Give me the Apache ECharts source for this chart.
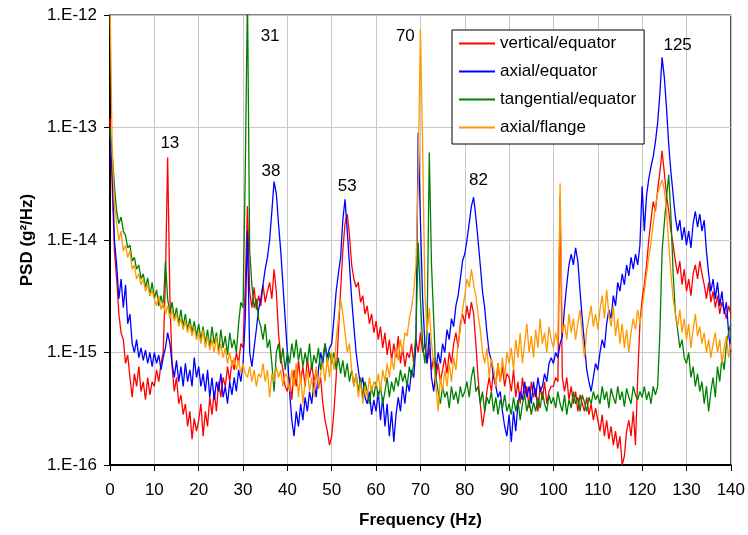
<!DOCTYPE html>
<html>
<head>
<meta charset="utf-8">
<script src="https://cdn.jsdelivr.net/npm/echarts@6/dist/echarts.min.js"></script>
<style>
  html, body { margin: 0; padding: 0; background: #fff; }
  #chart { width: 748px; height: 535px; }
</style>
</head>
<body>
<div id="chart"></div>
<script>
// PSD values in units of 1e-15 g^2/Hz, one value every 0.5 Hz from 0 to 140 Hz
var unit = 1e-15
var step = 0.5

var vertEq = [
    120, 30, 8, 4.5, 2.2, 1.5, 1.3, 0.8, 0.95, 0.6, 0.4, 0.65, 0.5, 0.75, 0.45, 0.55, 0.38, 0.6, 0.42, 0.55,
    0.5, 0.7, 0.55, 0.8, 1.0, 4.5, 54, 3.2, 0.75, 0.45, 0.6, 0.35, 0.42, 0.28, 0.35, 0.22, 0.3, 0.17, 0.26, 0.2,
    0.25, 0.35, 0.18, 0.3, 0.22, 0.4, 0.28, 0.45, 0.3, 0.55, 0.4, 0.6, 0.5, 0.75, 0.55, 0.85, 0.7, 1.0, 0.8, 1.2,
    1.1, 4, 20, 3.5, 2.5, 3.8, 2.4, 3.2, 2.6, 4.0, 2.8, 3.5, 4.2, 3.0, 5.5, 3.5, 1.5, 0.9, 0.7, 0.5,
    0.45, 0.6, 0.38, 0.7, 0.5, 0.85, 0.55, 0.75, 0.5, 0.9, 0.6, 0.8, 0.55, 0.7, 0.48, 0.6, 0.35, 0.25, 0.2, 0.15,
    0.18, 0.3, 0.6, 1.5, 3.5, 8, 14, 17, 11, 6, 4.5, 3.8, 4.2, 2.8, 3.2, 2.2, 2.6, 1.8, 2.2, 1.5,
    1.9, 1.3, 1.7, 1.1, 1.5, 0.95, 1.3, 0.85, 1.2, 0.9, 1.4, 0.8, 1.1, 0.75, 1.0, 0.9, 1.2, 0.8, 1.3, 1.0,
    1.5, 1.0, 1.2, 0.8, 1.1, 0.7, 0.9, 0.6, 0.8, 0.55, 0.7, 0.9, 0.65, 1.0, 0.8, 1.2, 1.5, 1.1, 1.8, 2.2,
    1.8, 2.6, 2.0, 2.8, 2.2, 1.2, 0.6, 0.35, 0.22, 0.3, 0.45, 0.6, 0.45, 0.7, 0.5, 0.8, 0.55, 0.75, 0.5, 0.65,
    0.6, 0.45, 0.7, 0.4, 0.55, 0.35, 0.6, 0.42, 0.5, 0.32, 0.55, 0.4, 0.48, 0.3, 0.5, 0.38, 0.55, 0.35, 0.45, 0.5,
    0.5, 0.6, 0.55, 24, 0.6, 0.45, 0.6, 0.38, 0.5, 0.35, 0.45, 0.3, 0.42, 0.35, 0.3, 0.4, 0.28, 0.35, 0.25, 0.32,
    0.25, 0.2, 0.28, 0.18, 0.25, 0.17, 0.22, 0.15, 0.2, 0.14, 0.18, 0.1, 0.12, 0.2, 0.25, 0.18, 0.3, 0.15, 0.6, 1.8,
    3, 4, 6, 10, 15, 22, 18, 28, 40, 62, 40, 25, 18, 12, 9, 6.5, 5, 6.5, 4, 5.5,
    3.5, 4.5, 3.2, 5, 6, 4.5, 6.5, 5, 4, 3, 4.2, 2.8, 3.5, 2.5, 3.2, 2.2, 2.8, 2.4, 2.0, 2.6, 2.2
]

var axialEq = [
    90, 40, 10, 6, 3, 4.5, 2.5, 4, 1.8, 2.2, 1.2, 1.0, 1.3, 0.9, 1.1, 0.85, 1.05, 0.8, 1.0, 0.75,
    1.0, 0.8, 0.95, 0.7, 0.9, 1.1, 1.5, 1.2, 0.8, 0.6, 0.85, 0.55, 0.75, 0.5, 0.8, 0.55, 0.7, 0.5, 0.9, 0.6,
    0.75, 0.5, 0.65, 0.45, 0.7, 0.4, 0.6, 0.38, 0.55, 0.45, 0.65, 0.4, 0.5, 0.35, 0.55, 0.42, 0.6, 0.45, 0.7, 0.55,
    0.8, 2, 12, 1.0, 0.75, 1.1, 1.6, 2.4, 3, 4, 5.5, 7, 10, 18, 33, 26, 14, 8, 4, 2,
    1.0, 0.45, 0.25, 0.18, 0.3, 0.22, 0.35, 0.25, 0.4, 0.3, 0.45, 0.35, 0.55, 0.4, 0.7, 1.0, 0.8, 1.2, 0.9, 1.1,
    1.2, 2, 3.5, 5, 7, 15, 23, 12, 6, 3, 1.7, 1.0, 0.7, 0.5, 0.6, 0.4, 0.35, 0.45, 0.28, 0.38,
    0.3, 0.45, 0.25, 0.4, 0.22, 0.35, 0.18, 0.3, 0.16, 0.28, 0.4, 0.3, 0.5, 0.35, 0.55, 0.45, 0.7, 0.6, 1.2, 90,
    15, 3, 1.2, 0.8, 1.5, 0.6, 0.45, 0.7, 1.0, 0.8, 1.2, 1.0, 1.6, 1.3, 2, 1.7, 2.6, 3.2, 4.5, 6.5,
    7.5, 10, 14, 20, 24, 16, 10, 6, 3.5, 2.5, 1.5, 1.0, 0.85, 0.6, 0.5, 0.4, 0.45, 0.3, 0.22, 0.18,
    0.28, 0.16, 0.3, 0.2, 0.35, 0.45, 0.38, 0.55, 0.4, 0.5, 0.35, 0.55, 0.4, 0.6, 0.45, 0.5, 0.65, 0.55, 0.8, 0.9,
    0.8, 1.0, 0.9, 1.2, 1.4, 2.5, 4, 6, 7.5, 6, 8.5, 6.5, 3.5, 2, 1.2, 0.7, 0.55, 0.45, 0.6, 0.8,
    0.7, 1.0, 1.3, 1.1, 1.8, 2.4, 2.0, 3.2, 2.6, 4.2, 3.5, 5, 4, 6, 4.8, 7, 5.5, 7.5, 6, 9,
    30, 12, 25, 35, 45, 55, 75, 110, 200, 420, 280, 150, 70, 40, 25, 16, 12, 15, 10, 13,
    9, 12, 8.5, 14, 18, 13, 17, 12, 15, 8, 5, 3.5, 4.5, 3, 4.2, 2.6, 3.5, 2.2, 2.8, 1.5, 1.0
]

var tangEq = [
    100, 60, 30, 18, 14, 16, 12, 11, 8.5, 9, 6.5, 7, 5.5, 6, 4.5, 5, 3.8, 4.6, 3.2, 4.2,
    3, 3.6, 2.6, 3.2, 2.5, 6.5, 3, 2.2, 2.8, 2.0, 2.5, 1.8, 2.4, 1.7, 2.2, 1.6, 2.0, 1.5, 1.9, 1.4,
    1.8, 1.3, 1.7, 1.2, 1.6, 1.1, 1.7, 1.2, 1.5, 1.0, 1.6, 1.1, 1.4, 0.95, 1.5, 1.1, 1.3, 1.0, 1.8, 2.8,
    2.5, 40, 1500, 8, 4, 2.5, 3, 2, 1.7, 1.3, 1.8, 1.1, 1.3, 0.8, 0.45, 1.0, 1.2, 0.8, 1.1, 0.7,
    1.0, 0.8, 1.2, 0.9, 1.3, 0.85, 1.1, 0.75, 1.0, 0.8, 1.2, 0.7, 0.95, 0.8, 1.1, 0.7, 0.9, 1.2, 0.8, 1.0,
    0.8, 1.0, 0.7, 0.9, 0.65, 0.85, 0.6, 0.8, 0.55, 0.7, 0.5, 0.65, 0.45, 0.6, 0.4, 0.55, 0.45, 0.35, 0.5, 0.4,
    0.55, 0.4, 0.5, 0.35, 0.45, 0.6, 0.4, 0.55, 0.45, 0.6, 0.5, 0.7, 0.55, 0.65, 0.5, 0.75, 0.6, 0.8, 1.5, 9.5,
    3, 1.2, 0.8, 1.5, 60, 6, 2, 0.6, 0.45, 0.35, 0.5, 0.4, 0.45, 0.32, 0.5, 0.38, 0.45, 0.35, 0.5, 0.4,
    0.45, 0.55, 0.4, 0.6, 0.75, 0.45, 0.5, 0.35, 0.45, 0.3, 0.4, 0.35, 0.45, 0.3, 0.4, 0.28, 0.38, 0.32, 0.42, 0.3,
    0.35, 0.28, 0.4, 0.3, 0.38, 0.25, 0.35, 0.42, 0.3, 0.38, 0.28, 0.36, 0.3, 0.4, 0.32, 0.45, 0.35, 0.3, 0.42, 0.35,
    0.4, 0.32, 0.45, 0.35, 0.3, 0.42, 0.28, 0.38, 0.32, 0.45, 0.35, 0.4, 0.3, 0.42, 0.36, 0.3, 0.4, 0.35, 0.45, 0.38,
    0.42, 0.35, 0.5, 0.38, 0.45, 0.32, 0.48, 0.4, 0.35, 0.5, 0.38, 0.45, 0.33, 0.48, 0.4, 0.35, 0.5, 0.42, 0.38, 0.45,
    0.4, 0.5, 0.38, 0.45, 0.35, 0.5, 0.42, 0.5, 1.5, 8, 14, 24, 38, 16, 5, 2.2, 1.6, 1.1, 1.3, 0.9,
    0.8, 1.0, 0.6, 0.75, 0.5, 0.65, 0.45, 0.55, 0.35, 0.5, 0.3, 0.45, 0.6, 0.4, 0.75, 0.55, 0.9, 0.7, 1.2, 1.5, 1.8
]

var axialFl = [
    1500, 60, 20, 14, 10, 12, 8, 9, 7, 8, 5.5, 6, 4.5, 5, 4, 4.5, 3.5, 4, 3.2, 3.6,
    3.0, 2.6, 3.2, 2.4, 2.8, 2.2, 2.6, 2.0, 2.4, 1.9, 2.2, 1.7, 2.0, 1.6, 1.9, 1.5, 1.8, 1.4, 1.7, 1.3,
    1.5, 1.2, 1.6, 1.1, 1.4, 1.05, 1.3, 1.0, 1.4, 0.95, 1.2, 0.9, 1.1, 0.8, 1.0, 0.75, 0.9, 0.7, 0.85, 0.65,
    0.8, 0.65, 0.6, 0.75, 0.55, 0.7, 0.5, 0.65, 0.6, 0.8, 0.55, 0.7, 0.4, 0.65, 0.55, 0.75, 0.6, 0.7, 0.5, 0.65,
    0.6, 0.45, 0.7, 0.5, 0.8, 0.4, 0.65, 0.35, 0.55, 0.7, 0.45, 0.6, 0.4, 0.75, 0.5, 0.65, 0.8, 0.55, 0.9, 0.6,
    1.0, 0.7, 1.3, 2, 3, 2.2, 1.5, 1.0, 1.2, 0.7, 0.5, 0.65, 0.4, 0.55, 0.35, 0.5, 0.4, 0.6, 0.45, 0.55,
    0.5, 0.65, 0.45, 0.7, 0.55, 0.8, 0.6, 0.9, 0.7, 1.1, 0.85, 1.3, 1.0, 1.5, 1.4, 2.0, 2.5, 3.5, 6, 35,
    750, 70, 3.5, 1.5, 2.5, 1.2, 0.8, 0.5, 0.3, 0.6, 0.45, 0.7, 0.5, 0.8, 0.55, 0.9, 0.7, 1.2, 1.6, 2.4,
    3.2, 4.5, 3.8, 5.5, 4, 3.2, 2.2, 1.6, 1.0, 0.8, 1.1, 0.6, 0.9, 0.7, 0.5, 0.8, 0.55, 0.9, 0.6, 1.0,
    0.8, 1.1, 0.7, 1.3, 0.9, 1.5, 0.8, 1.2, 1.8, 1.0, 1.4, 0.9, 1.6, 1.1, 2.0, 1.2, 1.5, 1.0, 1.7, 1.3,
    1.1, 1.5, 1.2, 32, 1.5, 1.8, 1.3, 2.2, 1.5, 2.0, 1.3, 1.8, 2.4, 1.4, 0.9, 1.6, 2.0, 2.6, 1.7, 2.2,
    1.6, 2.4, 3.2, 2.0, 3.6, 2.2, 1.7, 2.6, 1.4, 2.0, 1.2, 1.8, 1.1, 1.6, 1.0, 1.5, 2.0, 1.6, 2.4, 1.8,
    2.5, 3.5, 5, 7, 9.5, 14, 20, 26, 30, 34, 28, 18, 9, 5, 3, 2.2, 1.7, 2.4, 1.5, 2.0,
    1.3, 1.8, 1.1, 1.6, 2.2, 1.4, 1.7, 1.2, 1.5, 1.0, 1.3, 0.9, 1.2, 1.5, 1.0, 1.3, 0.8, 1.1, 1.4, 0.9, 1.2
]

var seriesNames = ["vertical/equator", "axial/equator", "tangential/equator", "axial/flange"]
var seriesColors = ["#FF0000", "#0000FF", "#008000", "#FF9900"]

// peak annotations (frequency, PSD in 1e-15 units, text)
var peakFreqs = [13.5, 36.1, 36.3, 53.5, 66.6, 83.1, 128]
var peakVals = [73, 640, 41, 30, 640, 34, 533]
var peakTexts = ["13", "31", "38", "53", "70", "82", "125"]

function toPairs(values) {
    return values.map((v, i) => [i * step, v * unit])
}

var font = "Arial, 'Liberation Sans', sans-serif"

var series = [vertEq, axialEq, tangEq, axialFl].map((values, k) => ({
    name: seriesNames[k],
    type: "line",
    data: toPairs(values),
    symbol: "none",
    clip: true,
    lineStyle: { width: 1.3, color: seriesColors[k] },
    itemStyle: { color: seriesColors[k] },
    animation: false
}))

series.push({
    name: "peaks",
    type: "scatter",
    symbolSize: 0,
    silent: true,
    itemStyle: { opacity: 1 },
    data: peakFreqs.map((f, i) => ({ value: [f, peakVals[i] * unit], name: peakTexts[i] })),
    label: {
        show: true,
        position: "inside",
        formatter: p => p.name,
        color: "#000",
        opacity: 1,
        fontSize: 17,
        fontFamily: font
    },
    z: 10,
    animation: false
})

var chart = echarts.init(document.getElementById("chart"))
chart.setOption({
    animation: false,
    backgroundColor: "#fff",
    grid: {
        left: 110,
        right: 17,
        top: 15,
        bottom: 70,
        show: true,
        borderColor: "#000",
        borderWidth: 1
    },
    legend: {
        data: seriesNames,
        orient: "vertical",
        left: 452,
        top: 30,
        padding: [5, 8, 8, 7],
        itemGap: 11,
        itemWidth: 36,
        itemHeight: 2,
        icon: "rect",
        backgroundColor: "#fff",
        borderColor: "#000",
        borderWidth: 1,
        textStyle: { fontSize: 17, fontFamily: font, color: "#000" }
    },
    xAxis: {
        type: "value",
        min: 0,
        max: 140,
        interval: 10,
        name: "Frequency (Hz)",
        nameLocation: "middle",
        nameGap: 47,
        nameTextStyle: { fontSize: 17, fontWeight: "bold", fontFamily: font, color: "#000" },
        axisLine: { lineStyle: { color: "#000", width: 2 } },
        axisTick: { show: true, length: 6, lineStyle: { color: "#000" } },
        axisLabel: { fontSize: 17, fontFamily: font, color: "#000", margin: 17 },
        splitLine: { show: true, lineStyle: { color: "#C8C8C8", width: 1 } }
    },
    yAxis: {
        type: "log",
        logBase: 10,
        min: 1e-16,
        max: 1e-12,
        name: "PSD (g²/Hz)",
        nameLocation: "middle",
        nameGap: 73,
        nameTextStyle: { fontSize: 17, fontWeight: "bold", fontFamily: font, color: "#000" },
        axisLine: { show: true, lineStyle: { color: "#000", width: 2 } },
        axisTick: { show: true, length: 6, lineStyle: { color: "#000" } },
        axisLabel: {
            fontSize: 17,
            fontFamily: font,
            color: "#000",
            margin: 13,
            formatter: v => "1.E" + Math.round(Math.log10(v))
        },
        splitLine: { show: true, lineStyle: { color: "#C8C8C8", width: 1 } },
        minorTick: { show: false }
    },
    series: series
})
</script>
</body>
</html>
